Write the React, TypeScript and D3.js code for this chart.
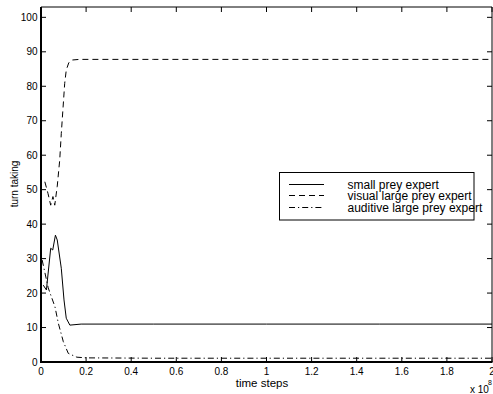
import React from "react";
import * as d3 from "d3";

const smallX = [0.01, 0.024, 0.043, 0.052, 0.064, 0.072, 0.09, 0.102, 0.112, 0.128, 0.178, 0.5, 1.0, 1.5, 2.0];
const smallY = [22.3, 20.9, 33, 32.5, 36.8, 35.4, 27.2, 18, 12.7, 10.7, 11.0, 11.0, 11.0, 11.0, 11.0];

const visualX = [0.017, 0.031, 0.043, 0.053, 0.061, 0.072, 0.083, 0.09, 0.098, 0.105, 0.112, 0.123, 0.135, 0.17, 0.5, 1.0, 1.5, 2.0];
const visualY = [52.3, 48.9, 45.5, 48, 45.5, 51, 58.6, 66.3, 74, 80.8, 84.7, 86.8, 87.6, 87.8, 87.8, 87.8, 87.8, 87.8];

const auditiveX = [0.005, 0.032, 0.062, 0.077, 0.099, 0.121, 0.159, 0.2, 0.5, 1.0, 1.5, 2.0];
const auditiveY = [29.6, 21.5, 16, 11.2, 5.9, 2.5, 1.4, 1.2, 1.1, 1.1, 1.1, 1.1];

const xTicks = [0, 0.2, 0.4, 0.6, 0.8, 1, 1.2, 1.4, 1.6, 1.8, 2];
const yTicks = [0, 10, 20, 30, 40, 50, 60, 70, 80, 90, 100];

const seriesNames = ["small prey expert", "visual large prey expert", "auditive large prey expert"];
const dashes = ["none", "6,4", "6,3,1.2,3"];

const W = 493, H = 394;
const L = 41, R = 492, T = 7, B = 362;
const FONT = "'Liberation Sans', Arial, Helvetica, sans-serif";

export default function App() {
  const x = d3.scaleLinear().domain([0, 2]).range([L, R]);
  const y = d3.scaleLinear().domain([0, 103]).range([B, T]);
  const line = d3.line<[number, number]>().x(d => x(d[0])).y(d => y(d[1]));
  const data: [number, number][][] = [
    smallX.map((v, i) => [v, smallY[i]]),
    visualX.map((v, i) => [v, visualY[i]]),
    auditiveX.map((v, i) => [v, auditiveY[i]]),
  ];
  const tl = 5;
  const legX = 279.5, legY = 172.5, legW = 194.5, legH = 47.5;
  const rowY = [184.5, 195.5, 207.5];
  return (
    <svg width={W} height={H} style={{ position: "absolute", left: 0, top: 0, background: "#fff" }} fontFamily={FONT}>
      <rect x={0} y={0} width={W} height={H} fill="#fff" />
      {data.map((d, i) => (
        <path key={i} d={line(d) || ""} fill="none" stroke="#000" strokeWidth={1} strokeDasharray={dashes[i]} />
      ))}
      {/* ticks */}
      {xTicks.map((t, i) => (
        <g key={"xt" + i}>
          <line x1={x(t)} x2={x(t)} y1={B} y2={B - tl} stroke="#000" />
          <line x1={x(t)} x2={x(t)} y1={T} y2={T + tl} stroke="#000" />
          <text x={x(t)} y={375} fontSize={10} textAnchor="middle">{t}</text>
        </g>
      ))}
      {yTicks.map((t, i) => (
        <g key={"yt" + i}>
          <line x1={L} x2={L + tl} y1={y(t)} y2={y(t)} stroke="#000" />
          <line x1={R} x2={R - tl} y1={y(t)} y2={y(t)} stroke="#000" />
          <text x={37.5} y={y(t) + 3.5} fontSize={10} textAnchor="end">{t}</text>
        </g>
      ))}
      {/* frame */}
      <line x1={L} x2={R} y1={T} y2={T} stroke="#000" strokeWidth={1} />
      <line x1={R} x2={R} y1={T} y2={B} stroke="#000" strokeWidth={1} />
      <line x1={L} x2={L} y1={T} y2={B + 1} stroke="#000" strokeWidth={2} />
      <line x1={L - 1} x2={R + 0.5} y1={B} y2={B} stroke="#000" strokeWidth={2} />
      {/* labels */}
      <text x={262} y={387} fontSize={11.5} textAnchor="middle">time steps</text>
      <text transform={`translate(18,184) rotate(-90)`} fontSize={10} textAnchor="middle">turn taking</text>
      <text x={470} y={393} fontSize={10}>x 10</text>
      <text x={488} y={385} fontSize={7}>8</text>
      {/* legend */}
      <rect x={legX} y={legY} width={legW} height={legH} fill="#fff" stroke="#000" strokeWidth={1} />
      {seriesNames.map((n, i) => (
        <g key={"lg" + i}>
          <line x1={289} x2={324} y1={rowY[i]} y2={rowY[i]} stroke="#000" strokeDasharray={dashes[i]} />
          <text x={347.5} y={rowY[i] + 4} fontSize={12}>{n}</text>
        </g>
      ))}
    </svg>
  );
}
